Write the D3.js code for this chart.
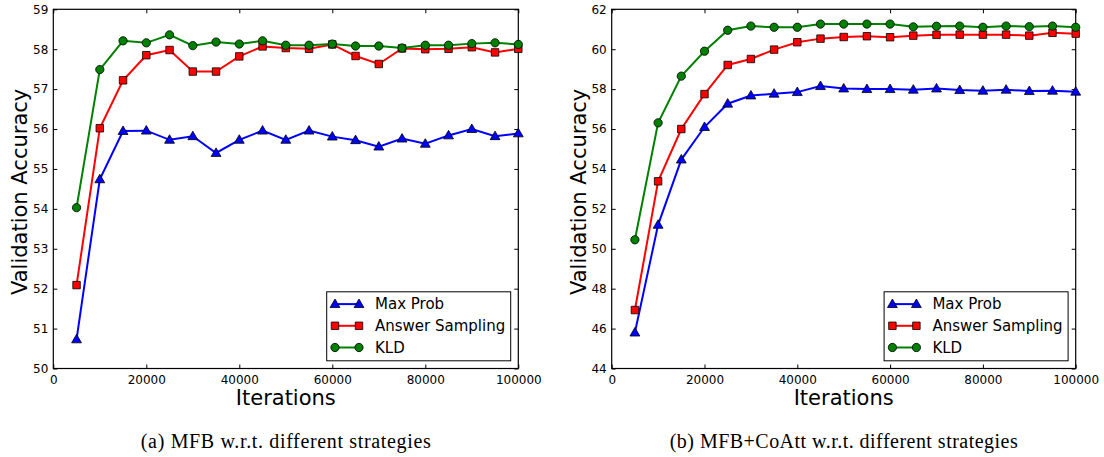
<!DOCTYPE html>
<html>
<head>
<meta charset="utf-8">
<script src="https://cdn.jsdelivr.net/npm/d3@7"></script>
<style>
  body { margin: 0; background: #fff; }
  svg { display: block; }
  text { font-family: "DejaVu Sans", sans-serif; fill: #000; }
  .caption { font-family: "Liberation Serif", "Times New Roman", serif; }
</style>
</head>
<body>
<div id="holder"></div>
<script>
var width = 1104;
var height = 457;

var iterations = [5000, 10000, 15000, 20000, 25000, 30000, 35000, 40000, 45000, 50000,
  55000, 60000, 65000, 70000, 75000, 80000, 85000, 90000, 95000, 100000];
var seriesNames = ["Max Prob", "Answer Sampling", "KLD"];
var xTicks = [0, 20000, 40000, 60000, 80000, 100000];

// (a) MFB
var mfbMaxProb = [50.73, 54.74, 55.95, 55.96, 55.73, 55.82, 55.40, 55.73, 55.96, 55.73,
  55.96, 55.81, 55.72, 55.56, 55.76, 55.63, 55.84, 56.00, 55.82, 55.89];
var mfbSampling = [52.09, 56.02, 57.22, 57.85, 57.98, 57.44, 57.44, 57.82, 58.07, 58.03,
  58.01, 58.12, 57.83, 57.63, 58.02, 58.00, 58.01, 58.05, 57.92, 58.01];
var mfbKLD = [54.03, 57.49, 58.21, 58.16, 58.36, 58.09, 58.18, 58.13, 58.21, 58.10,
  58.10, 58.13, 58.08, 58.08, 58.03, 58.10, 58.10, 58.14, 58.16, 58.12];
var mfbYTicks = [50, 51, 52, 53, 54, 55, 56, 57, 58, 59];

// (b) MFB+CoAtt
var coMaxProb = [45.80, 51.20, 54.47, 56.10, 57.27, 57.68, 57.77, 57.85, 58.15, 58.03,
  58.00, 58.00, 57.97, 58.03, 57.95, 57.92, 57.97, 57.90, 57.92, 57.87];
var coSampling = [46.93, 53.38, 56.00, 57.75, 59.21, 59.51, 59.98, 60.35, 60.53, 60.61,
  60.65, 60.60, 60.68, 60.72, 60.73, 60.73, 60.73, 60.68, 60.82, 60.78];
var coKLD = [50.45, 56.31, 58.65, 59.90, 60.95, 61.16, 61.10, 61.10, 61.26, 61.26,
  61.26, 61.26, 61.12, 61.15, 61.16, 61.10, 61.16, 61.13, 61.16, 61.10];
var coYTicks = [44, 46, 48, 50, 52, 54, 56, 58, 60, 62];

var colors = ["#0000ff", "#ff0000", "#008000"];
var symbols = [d3.symbolTriangle, d3.symbolSquare, d3.symbolCircle];
var symbolSizes = [42, 56, 54];

var svg = d3.select("#holder")
  .append("svg")
  .attr("width", width)
  .attr("height", height);

drawPanel({
  left: 53.3, right: 518.3, top: 9.3, bottom: 368.5,
  yDomain: [50, 59], yTicks: mfbYTicks,
  series: [mfbMaxProb, mfbSampling, mfbKLD],
  caption: "(a) MFB w.r.t. different strategies", capWidth: 290
});
drawPanel({
  left: 611.7, right: 1075.7, top: 9.3, bottom: 368.5,
  yDomain: [44, 62], yTicks: coYTicks,
  series: [coMaxProb, coSampling, coKLD],
  caption: "(b) MFB+CoAtt w.r.t. different strategies", capWidth: 348
});

function marker(g, i, x, y) {
  g.append("path")
    .attr("d", d3.symbol().type(symbols[i]).size(symbolSizes[i]))
    .attr("transform", "translate(" + x + "," + (i == 0 ? y + 0.6 : y) + ")")
    .attr("fill", colors[i])
    .attr("stroke", "#000")
    .attr("stroke-width", 0.8);
}

function drawPanel(p) {
  var x = d3.scaleLinear().domain([0, 100000]).range([p.left, p.right]);
  var y = d3.scaleLinear().domain(p.yDomain).range([p.bottom, p.top]);
  var g = svg.append("g");
  var tickLen = 4;

  // ticks inside on all four sides
  var axB = g.append("g").attr("transform", "translate(0," + p.bottom + ")")
    .call(d3.axisBottom(x).tickValues(xTicks).tickSizeInner(-tickLen).tickSizeOuter(0).tickPadding(7).tickFormat(d3.format("d")));
  var axT = g.append("g").attr("transform", "translate(0," + p.top + ")")
    .call(d3.axisTop(x).tickValues(xTicks).tickSizeInner(-tickLen).tickSizeOuter(0).tickFormat(""));
  var axL = g.append("g").attr("transform", "translate(" + p.left + ",0)")
    .call(d3.axisLeft(y).tickValues(p.yTicks).tickSizeInner(-tickLen).tickSizeOuter(0).tickPadding(5).tickFormat(d3.format("d")));
  var axR = g.append("g").attr("transform", "translate(" + p.right + ",0)")
    .call(d3.axisRight(y).tickValues(p.yTicks).tickSizeInner(-tickLen).tickSizeOuter(0).tickFormat(""));
  [axB, axT, axL, axR].forEach(function(a) {
    a.select(".domain").remove();
    a.selectAll("line").attr("stroke", "#000").attr("stroke-width", 1);
    a.selectAll("text").style("font-family", "DejaVu Sans").style("font-size", "12px").attr("fill", "#000");
  });

  g.append("rect")
    .attr("x", p.left).attr("y", p.top)
    .attr("width", p.right - p.left).attr("height", p.bottom - p.top)
    .attr("fill", "none").attr("stroke", "#000").attr("stroke-width", 1.2);

  var line = d3.line().x(function(d, i) { return x(iterations[i]); }).y(function(d) { return y(d); });
  p.series.forEach(function(vals, s) {
    g.append("path")
      .datum(vals)
      .attr("d", line)
      .attr("fill", "none")
      .attr("stroke", colors[s])
      .attr("stroke-width", 2);
    vals.forEach(function(v, i) { marker(g, s, x(iterations[i]), y(v)); });
  });

  // legend
  var lw = 184, lh = 69;
  var lx = p.right - 7.6 - lw, ly = p.bottom - 7.7 - lh;
  g.append("rect")
    .attr("x", lx).attr("y", ly).attr("width", lw).attr("height", lh)
    .attr("fill", "#fff").attr("stroke", "#000").attr("stroke-width", 1);
  seriesNames.forEach(function(name, s) {
    var yy = ly + 12.3 + s * 21.7;
    g.append("line")
      .attr("x1", lx + 8.3).attr("x2", lx + 32.3)
      .attr("y1", yy).attr("y2", yy)
      .attr("stroke", colors[s]).attr("stroke-width", 2);
    marker(g, s, lx + 8.3, yy);
    marker(g, s, lx + 32.3, yy);
    g.append("text")
      .attr("x", lx + 48.3).attr("y", yy + 5.3)
      .style("font-size", "15px")
      .text(name);
  });

  // axis titles
  g.append("text")
    .attr("x", (p.left + p.right) / 2).attr("y", 405)
    .attr("text-anchor", "middle")
    .style("font-size", "21px")
    .text("Iterations");
  g.append("text")
    .attr("transform", "translate(" + (p.left - 26) + "," + ((p.top + p.bottom) / 2 + 3) + ") rotate(-90)")
    .attr("text-anchor", "middle")
    .style("font-size", "21px")
    .text("Validation Accuracy");

  g.append("text")
    .attr("class", "caption")
    .attr("x", (p.left + p.right) / 2 - p.capWidth / 2).attr("y", 448)
    .attr("textLength", p.capWidth)
    .attr("lengthAdjust", "spacing")
    .style("font-size", "20px")
    .text(p.caption);
}
</script>
</body>
</html>
